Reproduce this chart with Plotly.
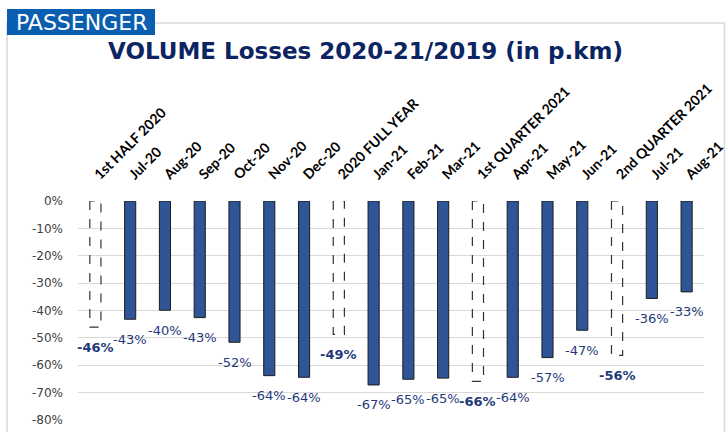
import plotly.graph_objects as go

categories = ["1st HALF 2020", "Jul-20", "Aug-20", "Sep-20", "Oct-20", "Nov-20", "Dec-20",
              "2020 FULL YEAR", "Jan-21", "Feb-21", "Mar-21", "1st QUARTER 2021",
              "Apr-21", "May-21", "Jun-21", "2nd QUARTER 2021", "Jul-21", "Aug-21"]
values = [-46.1, -43.2, -39.9, -42.6, -51.6, -63.8, -64.4, -48.7, -67.2, -65.1, -64.7,
          -65.9, -64.4, -57.2, -47.2, -56.4, -35.6, -33.2]
is_summary = [True, False, False, False, False, False, False, True, False, False, False,
              True, False, False, False, True, False, False]
y_ticks = [0, -10, -20, -30, -40, -50, -60, -70, -80]

BAR_W = 0.32
W, H = 726, 432
L, R, T, B = 78, 22, 201, 12
PW, PH = W - L - R, H - T - B


def px_x(px):
    return (px - L) / PW


def px_y(py):
    return (H - B - py) / PH


fig = go.Figure()

idx = list(range(len(categories)))
solid_x = [i for i in idx if not is_summary[i]]
solid_y = [values[i] for i in solid_x]
fig.add_trace(go.Bar(x=solid_x, y=solid_y, width=BAR_W,
                     marker=dict(color="#2F5597", line=dict(color="#1c1c1c", width=1)),
                     hoverinfo="skip", showlegend=False))

for i in idx:
    if is_summary[i]:
        x0, x1 = i - BAR_W / 2, i + BAR_W / 2
        fig.add_trace(go.Scatter(x=[x0, x0, x1, x1, x0], y=[0, values[i], values[i], 0, 0],
                                 mode="lines", line=dict(color="#333333", width=1.2, dash="dash"),
                                 hoverinfo="skip", showlegend=False, cliponaxis=False))

annotations = []
for i in idx:
    bold = is_summary[i]
    txt = f"{round(values[i]):d}%"
    annotations.append(dict(x=i, y=values[i], xref="x", yref="y", text=f"<b>{txt}</b>" if bold else txt,
                            showarrow=False, yshift=-20, yanchor="middle",
                            font=dict(family="DejaVu Sans", size=13, color="#1F3A7A")))

annotations.append(dict(x=px_x(365), y=px_y(51), xref="paper", yref="paper",
                        text="<b>VOLUME Losses 2020-21/2019 (in p.km)</b>", showarrow=False,
                        xanchor="center", yanchor="middle",
                        font=dict(family="DejaVu Sans", size=23, color="#0C2461")))
annotations.append(dict(x=px_x(81), y=px_y(22), xref="paper", yref="paper",
                        text="PASSENGER", showarrow=False, xanchor="center", yanchor="middle",
                        font=dict(family="DejaVu Sans", size=22, color="white")))

shapes = [
    dict(type="rect", xref="paper", yref="paper", x0=px_x(7), x1=px_x(724.5), y0=px_y(445), y1=px_y(23),
         line=dict(color="#d9d9d9", width=1.5), fillcolor="rgba(0,0,0,0)", layer="below"),
    dict(type="rect", xref="paper", yref="paper", x0=px_x(7), x1=px_x(155), y0=px_y(35), y1=px_y(9),
         line=dict(width=0), fillcolor="#0A5EB0", layer="above"),
]

fig.update_layout(
    width=W, height=H,
    margin=dict(l=L, r=R, t=T, b=B, autoexpand=False),
    paper_bgcolor="white", plot_bgcolor="white",
    annotations=annotations,
    shapes=shapes,
    xaxis=dict(range=[-0.5, len(categories) - 0.5], tickvals=idx, ticktext=categories,
               side="top", tickangle=-45, showgrid=False, zeroline=False, showline=False,
               automargin=False, ticklabeloverflow="allow",
               ticks="outside", ticklen=12, tickcolor="rgba(0,0,0,0)",
               tickfont=dict(family="Lato", size=14, color="#000000", weight="bold")),
    yaxis=dict(range=[-80, 0], tickvals=y_ticks, ticktext=[f"{v}%" for v in y_ticks],
               showgrid=True, gridcolor="#d9d9d9", gridwidth=1.2, zeroline=False, showline=False,
               automargin=False,
               ticks="", ticklabelstandoff=14,
               tickfont=dict(family="DejaVu Sans", size=12, color="#404040")),
)

fig.write_html("out.html", config={"displayModeBar": False},
               post_script="document.body.style.margin='0';document.body.style.padding='0';")
